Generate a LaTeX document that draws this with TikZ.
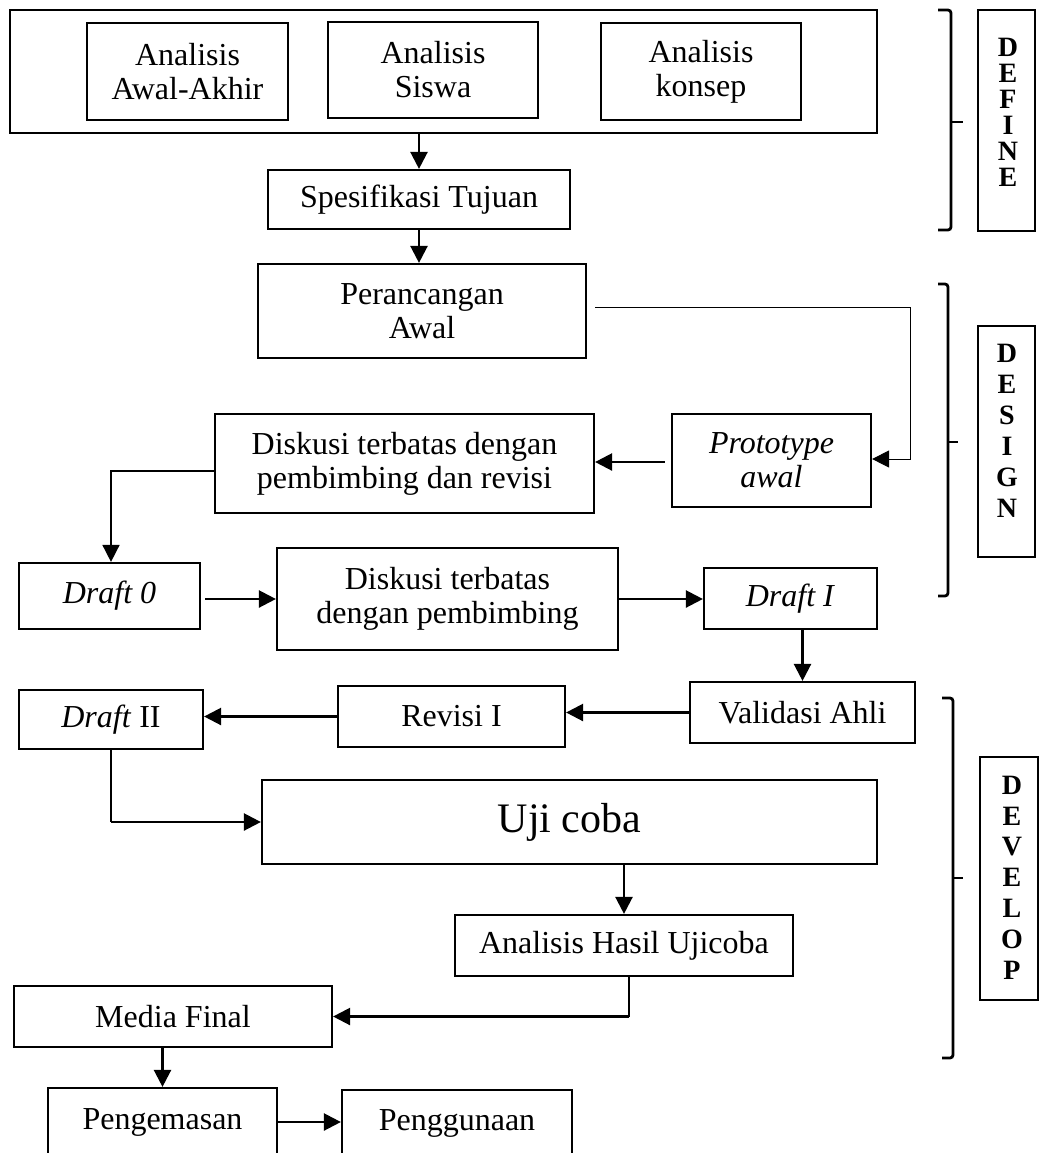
\documentclass[tikz,border=0pt]{standalone}
\usepackage{fontspec}
\setmainfont{Liberation Serif}
\usetikzlibrary{arrows.meta}
\begin{document}
\begin{tikzpicture}[x=0.5pt,y=-0.5pt,
  box/.style={draw,line width=1.1pt,align=center,inner sep=0pt,font=\fontsize{16}{17}\selectfont},
  sz/.style 2 args={minimum width=#1*0.5pt,minimum height=#2*0.5pt},
  arr/.style={line width=1.2pt,-{Triangle[length=8.5pt,width=8.5pt]}},
  thinarr/.style={line width=0.5pt,-{Triangle[length=8.5pt,width=8.5pt]}},
  thinline/.style={line width=0.6pt},
  brk/.style={line width=1.4pt,rounded corners=1.5pt},
  phase/.style={draw,line width=1.1pt,inner sep=0pt},
  letters/.style={align=center,inner sep=0pt}
]
\useasboundingbox (0,0) rectangle (1041,1153);
\clip (0,0) rectangle (1041,1153);

% define stage
\node[box,sz={867}{123}] (outer) at (443.5,71.5) {};
\node[box,sz={201}{97}] (aa) at (187.5,71.5) {Analisis\\Awal-Akhir};
\node[box,sz={210}{96}] (as) at (433,70) {Analisis\\Siswa};
\node[box,sz={200}{97}] (ak) at (701,71.5) {Analisis\\konsep};
\node[box,sz={302}{59}] (spec) at (419,199.5) {Spesifikasi Tujuan};

% design stage
\node[box,sz={328}{94}] (per) at (422,311) {Perancangan\\Awal};
\node[box,sz={199}{93},font=\fontsize{16}{17}\selectfont\itshape] (proto) at (771.5,460.5) {Prototype\\awal};
\node[box,sz={379}{99}] (disk1) at (404.5,463.5) {Diskusi terbatas dengan\\pembimbing dan revisi};
\node[box,sz={181}{66}] (d0) at (109.5,596) {\textit{Draft 0}};
\node[box,sz={341}{102}] (disk2) at (447.5,599) {Diskusi terbatas\\dengan pembimbing};
\node[box,sz={173}{61}] (d1) at (790.5,598.5) {\textit{Draft I}};

% develop stage
\node[box,sz={225}{61}] (val) at (802.5,712.5) {Validasi Ahli};
\node[box,sz={227}{61}] (rev) at (451.5,716.5) {Revisi I};
\node[box,sz={184}{59}] (d2) at (111,719.5) {\textit{Draft} II};
\node[box,sz={615}{84},font=\fontsize{21}{23}\selectfont] (uji) at (569.5,822) {Uji coba};
\node[box,sz={338}{61}] (ahu) at (624,945.5) {Analisis Hasil Ujicoba};
\node[box,sz={318}{61}] (mf) at (173,1016.5) {Media Final};
\node[box,sz={229}{68}] (peng) at (162.5,1122) {Pengemasan};
\node[box,sz={230}{66}] (pgn) at (457,1123) {Penggunaan};

% phase labels
\node[phase,sz={57}{221}] (pdef) at (1006.5,120.5) {};
\node[letters,font=\fontsize{14}{13}\selectfont\bfseries] (tdef) at (1008,112) {D\\E\\F\\I\\N\\E};
\node[phase,sz={57}{231}] (pdes) at (1006.5,441.5) {};
\node[letters,font=\fontsize{14}{15.5}\selectfont\bfseries] (tdes) at (1007,430.5) {D\\E\\S\\I\\G\\N};
\node[phase,sz={58}{243}] (pdev) at (1009,878.5) {};
\node[letters,font=\fontsize{14}{15.4}\selectfont\bfseries] (tdev) at (1012,877.5) {D\\E\\V\\E\\L\\O\\P};

% brackets
\draw[brk] (938,10) -- (951,10) -- (951,230) -- (938,230);
\draw[brk] (951,122) -- (963,122);
\draw[brk] (938,284) -- (948,284) -- (948,596) -- (938,596);
\draw[brk] (948,442) -- (958,442);
\draw[brk] (942,698) -- (953,698) -- (953,1058) -- (942,1058);
\draw[brk] (953,878) -- (963,878);

% connectors
\draw[arr] (outer.south -| spec.north) -- (spec.north);
\draw[arr] (spec.south) -- (spec.south |- per.north);
\draw[thinarr] ([xshift=4pt,yshift=2pt]per.east) -| ([xshift=19pt,yshift=0.75pt]proto.east) -- ([yshift=0.75pt]proto.east);
\draw[arr] ([xshift=-3pt,yshift=-0.75pt]proto.west) -- ([yshift=-0.75pt]proto.west -| disk1.east);
\draw[line width=0.8pt,-{Triangle[length=8.5pt,width=8.5pt]}] ([yshift=-3.75pt]disk1.west) -| ([xshift=0.75pt]d0.north);
\draw[arr] ([xshift=2pt]d0.east |- disk2.west) -- (disk2.west);
\draw[arr] (disk2.east) -- (disk2.east -| d1.west);
\draw[arr] (val.north |- d1.south) -- (val.north);
\draw[arr] (val.west) -- (val.west -| rev.east);
\draw[arr] (rev.west) -- (rev.west -| d2.east);
\coordinate (kd2) at (d2.south |- uji.west);
\draw[thinline] (d2.south) -- (kd2);
\draw[arr] (kd2) -- (uji.west);
\draw[arr] (ahu.north |- uji.south) -- (ahu.north);
\coordinate (kahu) at ([xshift=2.5pt]ahu.south |- mf.east);
\draw[thinline] ([xshift=2.5pt]ahu.south) -- (kahu);
\draw[arr] (kahu) -- (mf.east);
\draw[arr] (peng.north |- mf.south) -- (peng.north);
\draw[arr] (peng.east) -- (peng.east -| pgn.west);
\end{tikzpicture}
\end{document}
